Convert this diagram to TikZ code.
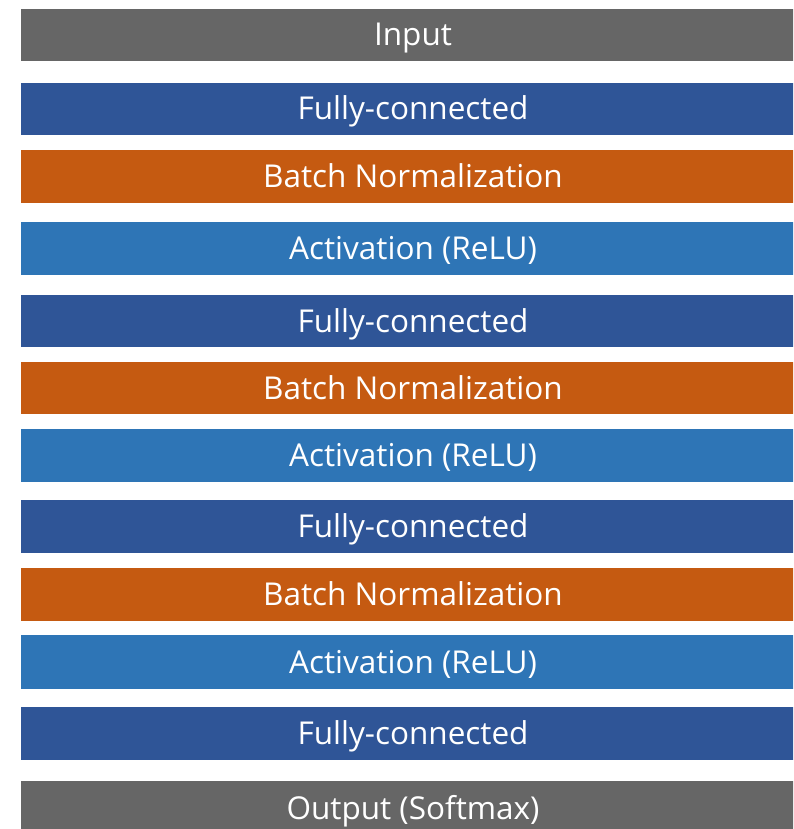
\documentclass[tikz,border=0pt]{standalone}
\usepackage{fontspec}
\setmainfont{Open Sans}
\definecolor{ingray}{HTML}{666666}
\definecolor{fcblue}{HTML}{2F5597}
\definecolor{bnorange}{HTML}{C55A11}
\definecolor{actblue}{HTML}{2E75B6}
\begin{document}
\begin{tikzpicture}[x=1pt,y=-1pt,
  layer/.style={rectangle, inner sep=0pt, minimum width=784pt, text=white,
    text height=22pt, text depth=0pt,
    font=\fontsize{31.5}{34}\selectfont},
  inlayer/.style={layer, fill=ingray},
  fclayer/.style={layer, fill=fcblue},
  bnlayer/.style={layer, fill=bnorange},
  actlayer/.style={layer, fill=actblue}]
\useasboundingbox (0,0) rectangle (793,829);
\clip (0,0) rectangle (793,829);
\node[inlayer, minimum height=52pt] (in) at (413,35) {Input};
\node[fclayer, minimum height=52pt] (fc1) at (413,109) {Fully-connected};
\node[bnlayer, minimum height=53pt] (bn1) at (413,176.5) {Batch Normalization};
\node[actlayer, minimum height=53pt] (act1) at (413,248.5) {Activation (ReLU)};
\node[fclayer, minimum height=52pt] (fc2) at (413,321) {Fully-connected};
\node[bnlayer, minimum height=52pt] (bn2) at (413,388) {Batch Normalization};
\node[actlayer, minimum height=53pt] (act2) at (413,455.5) {Activation (ReLU)};
\node[fclayer, minimum height=53pt] (fc3) at (413,526.5) {Fully-connected};
\node[bnlayer, minimum height=53pt] (bn3) at (413,594.5) {Batch Normalization};
\node[actlayer, minimum height=54pt] (act3) at (413,662) {Activation (ReLU)};
\node[fclayer, minimum height=53pt] (fc4) at (413,733.5) {Fully-connected};
\node[inlayer, minimum height=54pt] (out) at (413,808) {Output (Softmax)};
\end{tikzpicture}
\end{document}
